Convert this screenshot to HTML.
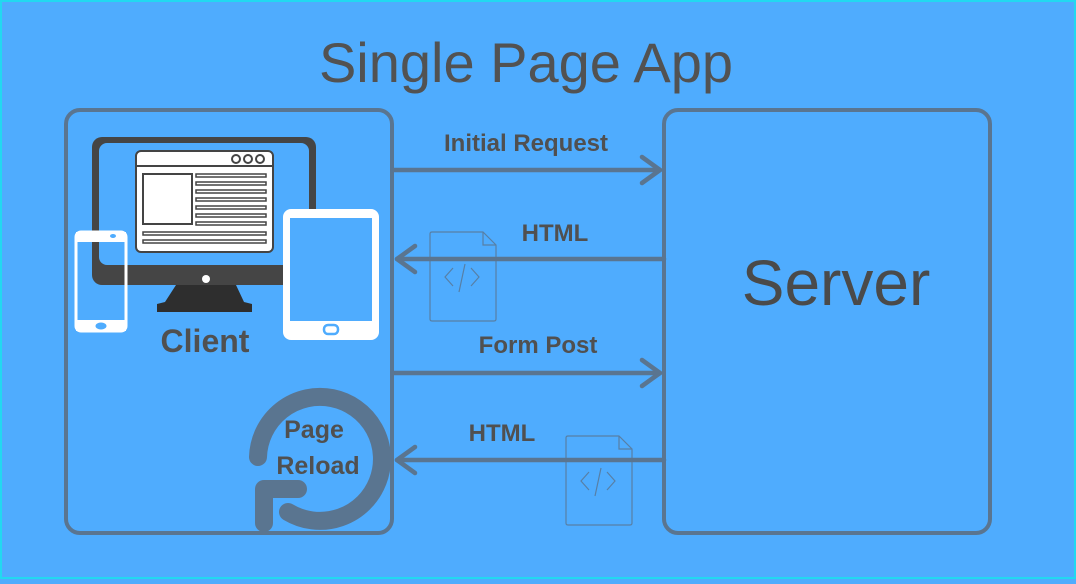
<!DOCTYPE html>
<html><head><style>
html,body{margin:0;padding:0;}
body{width:1076px;height:579px;overflow:hidden;background:#4facfe;}
svg text{font-family:"Liberation Sans",sans-serif;}
</style></head><body>
<svg width="1076" height="579" viewBox="0 0 1076 579" xmlns="http://www.w3.org/2000/svg">
<rect x="0" y="0" width="1076" height="579" fill="#4facfe"/>
<rect x="1" y="1" width="1074" height="577" fill="none" stroke="#22d8f0" stroke-width="2"/>
<text x="526" y="82" font-size="56" fill="#525252" text-anchor="middle">Single Page App</text>
<rect x="66" y="110" width="326" height="423" rx="14" fill="none" stroke="#5a7590" stroke-width="4"/>
<rect x="664" y="110" width="326" height="423" rx="14" fill="none" stroke="#5a7590" stroke-width="4"/>
<text x="836" y="305" font-size="64" fill="#4a4a4a" text-anchor="middle">Server</text>
<rect x="92" y="137" width="224" height="148" rx="10" fill="#454545"/>
<rect x="99" y="143" width="210" height="122" rx="8" fill="#4facfe"/>
<circle cx="206" cy="279" r="4" fill="#fff"/>
<path d="M176 285 L236 285 L244 302 L252 304 L252 312 L157 312 L157 304 L165 302 Z" fill="#2e2e2e"/>
<rect x="136" y="151" width="137" height="101" rx="5" fill="#fff" stroke="#444" stroke-width="2"/>
<line x1="136" y1="166" x2="273" y2="166" stroke="#444" stroke-width="2"/>
<circle cx="236" cy="159" r="4" fill="none" stroke="#444" stroke-width="2"/>
<circle cx="248" cy="159" r="4" fill="none" stroke="#444" stroke-width="2"/>
<circle cx="260" cy="159" r="4" fill="none" stroke="#444" stroke-width="2"/>
<rect x="143" y="174" width="49" height="50" fill="#fff" stroke="#444" stroke-width="2"/>
<g fill="#fff" stroke="#444" stroke-width="1.5">
<rect x="196" y="174" width="70" height="3"/><rect x="196" y="182" width="70" height="3"/><rect x="196" y="190" width="70" height="3"/><rect x="196" y="198" width="70" height="3"/><rect x="196" y="206" width="70" height="3"/><rect x="196" y="214" width="70" height="3"/><rect x="196" y="222" width="70" height="3"/>
<rect x="143" y="232" width="123" height="3"/><rect x="143" y="240" width="123" height="3"/>
</g>
<rect x="76" y="232" width="50" height="99" rx="5" fill="none" stroke="#fff" stroke-width="3"/>
<rect x="76" y="241" width="50" height="80" fill="none" stroke="#fff" stroke-width="2"/>
<rect x="76" y="232" width="50" height="10" fill="#fff"/>
<rect x="76" y="321" width="50" height="10" fill="#fff"/>
<ellipse cx="113" cy="236" rx="3" ry="2" fill="#4facfe"/>
<ellipse cx="101" cy="326" rx="5" ry="3" fill="#4facfe" stroke="#4facfe"/>
<rect x="283" y="209" width="96" height="131" rx="8" fill="#fff"/>
<rect x="290" y="218" width="82" height="103" fill="#4facfe"/>
<rect x="324" y="325" width="14" height="9" rx="4" fill="none" stroke="#4facfe" stroke-width="2.5"/>
<text x="205" y="352" font-size="32" font-weight="bold" fill="#505050" text-anchor="middle">Client</text>
<path d="M258 457 A62 62 0 1 1 288 512" fill="none" stroke="#5a7590" stroke-width="18" stroke-linecap="round"/>
<path d="M264 523 L264 489 L298 489" fill="none" stroke="#5a7590" stroke-width="18" stroke-linecap="round" stroke-linejoin="round"/>
<text x="314" y="438" font-size="25" font-weight="bold" fill="#505050" text-anchor="middle">Page</text>
<text x="318" y="474" font-size="25" font-weight="bold" fill="#505050" text-anchor="middle">Reload</text>
<g stroke="#5a7590" stroke-width="4.5" fill="none" stroke-linecap="round" stroke-linejoin="round">
<line x1="393" y1="170" x2="660" y2="170"/><path d="M642 157 L660 170 L642 183"/>
<line x1="664" y1="259" x2="397" y2="259"/><path d="M415 246 L397 259 L415 272"/>
<line x1="393" y1="373" x2="660" y2="373"/><path d="M642 360 L660 373 L642 386"/>
<line x1="664" y1="460" x2="397" y2="460"/><path d="M415 447 L397 460 L415 473"/>
</g>
<text x="526" y="151" font-size="24" font-weight="bold" fill="#505050" text-anchor="middle">Initial Request</text>
<text x="555" y="241" font-size="24" font-weight="bold" fill="#505050" text-anchor="middle">HTML</text>
<text x="538" y="353" font-size="24" font-weight="bold" fill="#505050" text-anchor="middle">Form Post</text>
<text x="502" y="441" font-size="24" font-weight="bold" fill="#505050" text-anchor="middle">HTML</text>
<g fill="none" stroke="#5a7590" stroke-width="1.2" opacity="0.8">
<path d="M432 232 L483 232 L496 245 L496 319 Q496 321 494 321 L432 321 Q430 321 430 319 L430 234 Q430 232 432 232 Z"/>
<path d="M483 232 L483 245 L496 245"/>
<path d="M453 268 L445 277 L453 286 M471 268 L479 277 L471 286 M465 264 L459 292"/>
<path d="M568 436 L619 436 L632 449 L632 523 Q632 525 630 525 L568 525 Q566 525 566 523 L566 438 Q566 436 568 436 Z"/>
<path d="M619 436 L619 449 L632 449"/>
<path d="M589 472 L581 481 L589 490 M607 472 L615 481 L607 490 M601 468 L595 496"/>
</g>
</svg>
</body></html>
